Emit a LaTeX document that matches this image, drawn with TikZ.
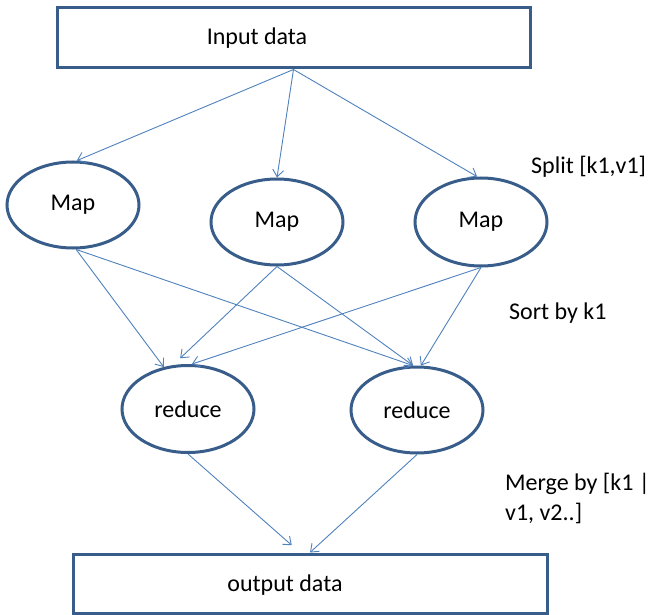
\documentclass[tikz,border=0pt]{standalone}
\usepackage{fontspec}
\setmainfont{Carlito}
\usetikzlibrary{arrows.meta,shapes.geometric}
\definecolor{outline}{HTML}{385D8A}
\definecolor{link}{HTML}{4F81BD}
\begin{document}
\begin{tikzpicture}[x=1pt,y=-1pt,
  every node/.style={font=\fontsize{24}{30}\selectfont, text=black},
  stage/.style={draw=outline, line width=3pt, ellipse, minimum width=132pt,
                minimum height=86pt, inner sep=0pt},
  datablock/.style={draw=outline, line width=3pt, rectangle, inner sep=0pt},
  flow/.style={draw=link, line width=0.9pt, -{Straight Barb[length=7pt,width=11pt]}},
  note/.style={anchor=west, inner sep=0pt, align=left}]
\useasboundingbox (0,0) rectangle (651,615);

% input and output blocks
\node[datablock, minimum width=473pt, minimum height=60pt] (input) at (293.5,38) {};
\node[inner sep=0pt] (inputtext) at (257,38) {Input data};
\node[datablock, minimum width=474pt, minimum height=59pt] (output) at (310,583.5) {};
\node[inner sep=0pt] (outputtext) at (285,585) {output data};

% map stage
\node[stage] (map1) at (73,205) {Map};
\node[stage] (map2) at (277,222) {Map};
\node[stage, minimum height=88pt] (map3) at (481,222) {Map};

% reduce stage
\node[stage, minimum height=87pt] (red1) at (188,409) {reduce};
\node[stage] (red2) at (417,410) {reduce};

% side notes
\node[note] (split) at (531,167) {Split [k1,v1]};
\node[note] (sort) at (509,313) {Sort by k1};
\node[note] (merge) at (505,498) {Merge by [k1 |\\v1, v2..]};

% input -> map
\draw[flow] (input.south) -- (map1.85);
\draw[flow] (input.south) -- (map2.north);
\draw[flow] (input.south) -- (map3.95);

% map -> reduce
\draw[flow] (map1.-86) -- (red1.120);
\draw[flow] (map1.-86) -- (red2.95);
\draw[flow, shorten >=10pt] (map2.south) -- (red1.109);
\draw[flow] (map2.south) -- (red2.95);
\draw[flow] (map3.south) -- (red1.85);
\draw[flow] (map3.south) -- (red2.85);

% reduce -> output
\draw[flow, shorten >=11pt] (red1.south) -- ([xshift=-10pt]output.north);
\draw[flow] (red2.south) -- (output.north);
\end{tikzpicture}
\end{document}
